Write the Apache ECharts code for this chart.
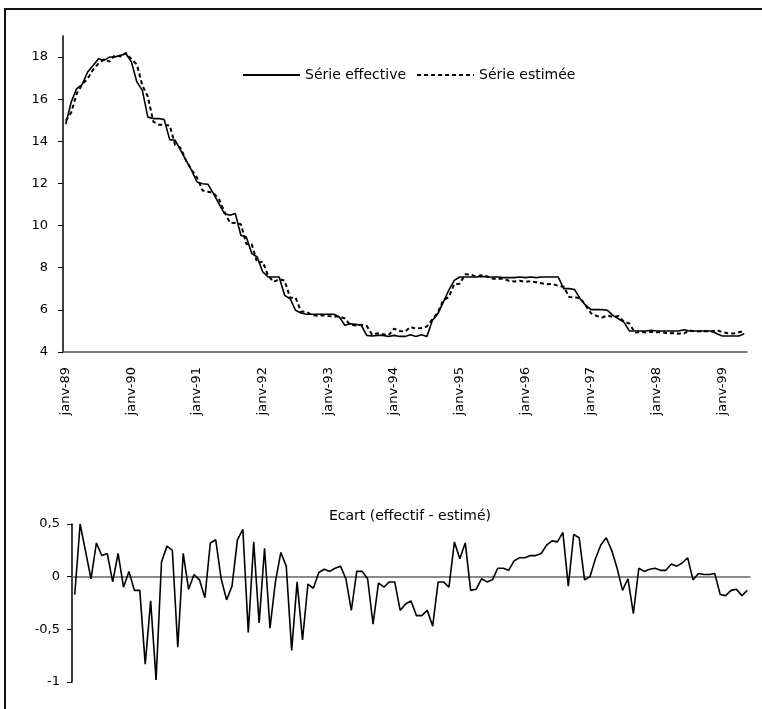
<!DOCTYPE html>
<html>
<head>
<meta charset="utf-8">
<title>Série effective / Série estimée</title>
<script src="https://cdn.jsdelivr.net/npm/echarts@6/dist/echarts.min.js"></script>
<style>
  html, body { margin: 0; padding: 0; background: #fff; }
  #chart { width: 762px; height: 709px; }
</style>
</head>
<body>
<div id="chart"></div>
<script>
// mois (janv-89 .. mai-99)
const monthNames = ['janv', 'févr', 'mars', 'avr', 'mai', 'juin', 'juil', 'août', 'sept', 'oct', 'nov', 'déc'];
const startYear = 1989;
const monthCount = 125;

// taux effectif
const serieEffective = [
  14.81, 15.87, 16.50, 16.69, 17.29, 17.60, 17.92, 17.84, 18.00, 18.00, 18.08, 18.16,
  17.77, 16.82, 16.42, 15.15, 15.08, 15.08, 15.03, 14.08, 14.05, 13.57, 13.10, 12.62,
  12.07, 11.99, 11.96, 11.52, 11.04, 10.57, 10.49, 10.57, 9.54, 9.46, 8.67, 8.51,
  7.80, 7.56, 7.56, 7.56, 6.69, 6.53, 5.98, 5.85, 5.79, 5.79, 5.79, 5.79,
  5.79, 5.79, 5.66, 5.27, 5.34, 5.31, 5.27, 4.79, 4.76, 4.79, 4.79, 4.74,
  4.79, 4.74, 4.74, 4.82, 4.74, 4.82, 4.74, 5.50, 5.82, 6.37, 6.93, 7.40,
  7.56, 7.56, 7.56, 7.56, 7.59, 7.56, 7.56, 7.56, 7.53, 7.53, 7.53, 7.56,
  7.53, 7.56, 7.53, 7.56, 7.56, 7.56, 7.56, 7.01, 7.01, 6.96, 6.53, 6.22,
  6.01, 6.01, 6.01, 5.98, 5.74, 5.58, 5.42, 5.00, 5.00, 5.00, 5.00, 5.03,
  5.00, 5.00, 5.00, 5.00, 5.00, 5.06, 5.00, 5.00, 5.00, 5.00, 5.00, 4.87,
  4.76, 4.76, 4.76, 4.76, 4.87
];

// taux estimé
const serieEstimee = [
  14.98, 15.37, 16.26, 16.71, 16.97, 17.40, 17.70, 17.89, 17.78, 18.10, 18.03, 18.20,
  17.90, 17.65, 16.65, 16.13, 14.94, 14.79, 14.78, 14.75, 13.83, 13.69, 13.08, 12.65,
  12.27, 11.67, 11.61, 11.54, 11.26, 10.66, 10.14, 10.12, 10.07, 9.13, 9.11, 8.24,
  8.29, 7.61, 7.33, 7.46, 7.39, 6.58, 6.58, 5.92, 5.90, 5.75, 5.72, 5.74,
  5.71, 5.69, 5.68, 5.59, 5.29, 5.26, 5.29, 5.24, 4.82, 4.89, 4.84, 4.79,
  5.11, 5.00, 4.97, 5.19, 5.11, 5.14, 5.21, 5.55, 5.87, 6.47, 6.60, 7.23,
  7.24, 7.69, 7.68, 7.58, 7.64, 7.59, 7.48, 7.48, 7.47, 7.38, 7.35, 7.38,
  7.33, 7.36, 7.31, 7.26, 7.22, 7.23, 7.14, 7.10, 6.61, 6.59, 6.56, 6.22,
  5.84, 5.71, 5.64, 5.73, 5.66, 5.71, 5.44, 5.35, 4.92, 4.95, 4.93, 4.95,
  4.94, 4.94, 4.88, 4.90, 4.87, 4.88, 5.03, 4.97, 4.98, 4.98, 4.97, 5.04,
  4.94, 4.89, 4.88, 4.94, 5.00
];

// écart (effectif - estimé)
const serieEcart = [
  -0.17, 0.50, 0.24, -0.02, 0.32, 0.20, 0.22, -0.05, 0.22, -0.10, 0.05, -0.13,
  -0.13, -0.83, -0.23, -0.98, 0.14, 0.29, 0.25, -0.67, 0.22, -0.12, 0.02, -0.03,
  -0.20, 0.32, 0.35, -0.02, -0.22, -0.09, 0.35, 0.45, -0.53, 0.33, -0.44, 0.27,
  -0.49, -0.05, 0.23, 0.10, -0.70, -0.05, -0.60, -0.07, -0.11, 0.04, 0.07, 0.05,
  0.08, 0.10, -0.02, -0.32, 0.05, 0.05, -0.02, -0.45, -0.06, -0.10, -0.05, -0.05,
  -0.32, -0.26, -0.23, -0.37, -0.37, -0.32, -0.47, -0.05, -0.05, -0.10, 0.33, 0.17,
  0.32, -0.13, -0.12, -0.02, -0.05, -0.03, 0.08, 0.08, 0.06, 0.15, 0.18, 0.18,
  0.20, 0.20, 0.22, 0.30, 0.34, 0.33, 0.42, -0.09, 0.40, 0.37, -0.03, 0.00,
  0.17, 0.30, 0.37, 0.25, 0.08, -0.13, -0.02, -0.35, 0.08, 0.05, 0.07, 0.08,
  0.06, 0.06, 0.12, 0.10, 0.13, 0.18, -0.03, 0.03, 0.02, 0.02, 0.03, -0.17,
  -0.18, -0.13, -0.12, -0.18, -0.13
];

// graduations
const topTicks = [4, 6, 8, 10, 12, 14, 16, 18];

const categories = [];
for (let i = 0; i < monthCount; i++) {
  const y = String((startYear + Math.floor(i / 12)) % 100).padStart(2, '0');
  categories.push(monthNames[i % 12] + '-' + y);
}

const fontFamily = 'DejaVu Sans';
const isJanuary = (index) => index % 12 === 0;

const chart = echarts.init(document.getElementById('chart'));

const option = {
  animation: false,
  backgroundColor: '#fff',
  textStyle: { fontFamily: fontFamily, color: '#000' },
  title: {
    text: 'Ecart (effectif - estimé)',
    left: 405,
    textAlign: 'center',
    top: 504,
    textStyle: { fontSize: 14, fontWeight: 'normal', color: '#000', fontFamily: fontFamily }
  },
  legend: {
    data: ['Série effective', 'Série estimée'],
    left: 237,
    top: 63,
    itemWidth: 57,
    itemHeight: 14,
    itemGap: 10,
    // pas de marqueur, seulement le trait
    itemStyle: { opacity: 0 },
    textStyle: { fontSize: 14, color: '#000', fontFamily: fontFamily }
  },
  grid: [
    // graphique du haut
    { left: 63, top: 36, width: 684, height: 316 },
    // graphique de l'écart
    { left: 72, top: 524, width: 678, height: 158 }
  ],
  xAxis: [
    {
      type: 'category',
      gridIndex: 0,
      data: categories,
      boundaryGap: true,
      axisLine: { lineStyle: { color: '#555', width: 1.5 } },
      axisTick: { interval: (index) => isJanuary(index), length: 5, lineStyle: { color: '#555' } },
      axisLabel: {
        interval: (index) => isJanuary(index),
        rotate: 90,
        margin: 15,
        fontSize: 13,
        color: '#000',
        fontFamily: fontFamily
      },
      splitLine: { show: false }
    },
    {
      type: 'category',
      gridIndex: 1,
      data: categories,
      boundaryGap: true,
      axisLine: { onZero: true, lineStyle: { color: '#666', width: 1.5 } },
      axisTick: { show: false },
      axisLabel: { show: false },
      splitLine: { show: false }
    }
  ],
  yAxis: [
    {
      type: 'value',
      gridIndex: 0,
      min: 4,
      max: 19,
      interval: 2,
      axisLine: { show: true, lineStyle: { color: '#000', width: 1.5 } },
      axisTick: { show: true, length: 5, customValues: topTicks, lineStyle: { color: '#000' } },
      axisLabel: { margin: 15, fontSize: 13, color: '#000', customValues: topTicks, fontFamily: fontFamily },
      splitLine: { show: false }
    },
    {
      type: 'value',
      gridIndex: 1,
      min: -1,
      max: 0.5,
      interval: 0.5,
      axisLine: { show: true, lineStyle: { color: '#000', width: 1.5 } },
      axisTick: { show: true, length: 5, lineStyle: { color: '#000' } },
      axisLabel: {
        margin: 12,
        fontSize: 13,
        color: '#000',
        fontFamily: fontFamily,
        formatter: (v) => String(v).replace('.', ',')
      },
      splitLine: { show: false }
    }
  ],
  series: [
    {
      name: 'Série effective',
      type: 'line',
      xAxisIndex: 0,
      yAxisIndex: 0,
      data: serieEffective,
      symbol: 'none',
      itemStyle: { color: '#000' },
      lineStyle: { color: '#000', width: 1.6 }
    },
    {
      name: 'Série estimée',
      type: 'line',
      xAxisIndex: 0,
      yAxisIndex: 0,
      data: serieEstimee,
      symbol: 'none',
      itemStyle: { color: '#000' },
      lineStyle: { color: '#000', width: 2, type: [4, 3] }
    },
    {
      name: 'Ecart',
      type: 'line',
      xAxisIndex: 1,
      yAxisIndex: 1,
      data: serieEcart,
      symbol: 'none',
      itemStyle: { color: '#000' },
      lineStyle: { color: '#000', width: 1.6 }
    }
  ],
  // cadre (bords haut et gauche visibles)
  graphic: [
    {
      type: 'polyline',
      shape: { points: [[5, 709], [5, 9], [762, 9]] },
      style: { stroke: '#111', lineWidth: 2, fill: null }
    }
  ]
};

chart.setOption(option);
</script>
</body>
</html>
